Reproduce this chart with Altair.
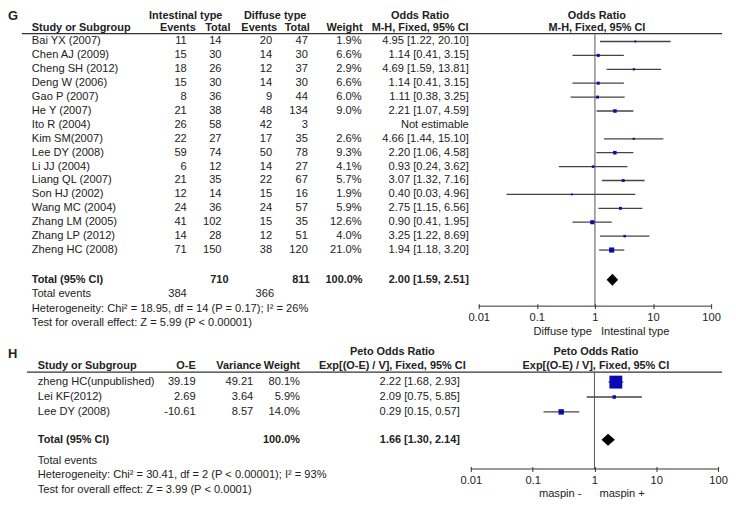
import altair as alt
import pandas as pd

# ---------------- Panel G data ----------------
g_study = ["Bai YX (2007)", "Chen AJ (2009)", "Cheng SH (2012)", "Deng W (2006)",
           "Gao P (2007)", "He Y (2007)", "Ito R (2004)", "Kim SM(2007)",
           "Lee DY (2008)", "Li JJ (2004)", "Liang QL (2007)", "Son HJ (2002)",
           "Wang MC (2004)", "Zhang LM (2005)", "Zhang LP (2012)", "Zheng HC (2008)"]
g_int_events = [11, 15, 18, 15, 8, 21, 26, 22, 59, 6, 21, 12, 24, 41, 14, 71]
g_int_total = [14, 30, 26, 30, 36, 38, 58, 27, 74, 12, 35, 14, 36, 102, 28, 150]
g_dif_events = [20, 14, 12, 14, 9, 48, 42, 17, 50, 14, 22, 15, 24, 15, 12, 38]
g_dif_total = [47, 30, 37, 30, 44, 134, 3, 35, 78, 27, 67, 16, 57, 35, 51, 120]
g_weight = [1.9, 6.6, 2.9, 6.6, 6.0, 9.0, None, 2.6, 9.3, 4.1, 5.7, 1.9, 5.9, 12.6, 4.0, 21.0]
g_or = [4.95, 1.14, 4.69, 1.14, 1.11, 2.21, None, 4.66, 2.20, 0.93, 3.07, 0.40, 2.75, 0.90, 3.25, 1.94]
g_lo = [1.22, 0.41, 1.59, 0.41, 0.38, 1.07, None, 1.44, 1.06, 0.24, 1.32, 0.03, 1.15, 0.41, 1.22, 1.18]
g_hi = [20.10, 3.15, 13.81, 3.15, 3.25, 4.59, None, 15.10, 4.58, 3.62, 7.16, 4.96, 6.56, 1.95, 8.69, 3.20]
g_total = [2.00, 1.59, 2.51]
g_total_n = [710, 811]
g_total_events = [384, 366]
g_het = "Heterogeneity: Chi\u00b2 = 18.95, df = 14 (P = 0.17); I\u00b2 = 26%"
g_test = "Test for overall effect: Z = 5.99 (P < 0.00001)"
g_favours = ["Diffuse type", "Intestinal type"]

# ---------------- Panel H data ----------------
h_study = ["zheng HC(unpublished)", "Lei KF(2012)", "Lee DY (2008)"]
h_oe = [39.19, 2.69, -10.61]
h_var = [49.21, 3.64, 8.57]
h_weight = [80.1, 5.9, 14.0]
h_or = [2.22, 2.09, 0.29]
h_lo = [1.68, 0.75, 0.15]
h_hi = [2.93, 5.85, 0.57]
h_total = [1.66, 1.30, 2.14]
h_het = "Heterogeneity: Chi\u00b2 = 30.41, df = 2 (P < 0.00001); I\u00b2 = 93%"
h_test = "Test for overall effect: Z = 3.99 (P < 0.0001)"
h_favours = ["maspin -", "maspin +"]

tick_vals = [0.01, 0.1, 1, 10, 100]

FONT = "Liberation Sans"
TXT = "#222222"
SQ = "#0a0ab4"
LINE = "#444444"
FS = 11.2    # normal text size
FSB = 11     # bold header size


def fmt_or(o, l, h):
    if o is None:
        return "Not estimable"
    return f"{o:.2f} [{l:.2f}, {h:.2f}]"


def pct(w):
    return "" if w is None else f"{w:.1f}%"


def txt(labels, ys, x, align, ysc, bold=False, size=None):
    if size is None:
        size = FSB if bold else FS
    d = pd.DataFrame({"t": [str(v) for v in labels], "y": list(ys)})
    return alt.Chart(d).mark_text(
        align=align, baseline="middle", font=FONT, fontSize=size,
        fontWeight="bold" if bold else "normal", color=TXT
    ).encode(x=alt.value(x), y=alt.Y("y:Q", scale=ysc, axis=None), text="t:N")


def hline(y, x1, x2, ysc):
    return alt.Chart(pd.DataFrame({"y": [y]})).mark_rule(color="#333333", strokeWidth=1.3).encode(
        x=alt.value(x1), x2=alt.value(x2), y=alt.Y("y:Q", scale=ysc, axis=None))


def make_axis():
    return alt.Axis(values=tick_vals, format="~g", title=None, grid=False, domain=False,
                    ticks=True, tickSize=5, tickColor="#333333", tickWidth=1,
                    labelFont=FONT, labelFontSize=11.2, labelColor=TXT, labelPadding=3,
                    labelFlush=False, labelOverlap=False, orient="bottom")


def forest(ors, los, his, ws, ys, xsc, ysc, k, y_top, y_line, tot, y_tot, favours, y_fav, dxl, dxr):
    ax = make_axis()
    d = pd.DataFrame({"or": ors, "lo": los, "hi": his, "w": ws, "y": ys}).dropna()
    d["area"] = k[0] + k[1] * d["w"]
    X = lambda f: alt.X(f, scale=xsc, axis=ax)
    Y = lambda f: alt.Y(f, scale=ysc, axis=None)
    ref = alt.Chart(pd.DataFrame({"x": [1.0], "y": [y_top], "y2": [y_line]})).mark_rule(
        color="#555555", strokeWidth=1).encode(x=X("x:Q"), y=Y("y:Q"), y2="y2:Q")
    axl = alt.Chart(pd.DataFrame({"x": [tick_vals[0]], "x2": [tick_vals[-1]], "y": [y_line]})).mark_rule(
        color="#333333", strokeWidth=1).encode(x=X("x:Q"), x2="x2:Q", y=Y("y:Q"))
    ci = alt.Chart(d).mark_rule(color=LINE, strokeWidth=1.3).encode(
        x=X("lo:Q"), x2="hi:Q", y=Y("y:Q"))
    sq = alt.Chart(d).mark_square(color=SQ, opacity=1).encode(
        x=X("or:Q"), y=Y("y:Q"), size=alt.Size("area:Q", scale=None))
    est, lo, hi = tot
    dia = alt.Chart(pd.DataFrame({"x": [lo, est, hi],
                                  "y": [y_tot, y_tot - 6, y_tot],
                                  "y2": [y_tot, y_tot + 6, y_tot]})).mark_area(
        color="black", opacity=1, orient="vertical").encode(x=X("x:Q"), y=Y("y:Q"), y2="y2:Q")
    fl = alt.Chart(pd.DataFrame({"x": [1.0], "y": [y_fav], "t": [favours[0]]})).mark_text(
        align="right", baseline="middle", font=FONT, fontSize=FS, color=TXT, dx=dxl).encode(
        x=X("x:Q"), y=Y("y:Q"), text="t:N")
    fr = alt.Chart(pd.DataFrame({"x": [1.0], "y": [y_fav], "t": [favours[1]]})).mark_text(
        align="left", baseline="middle", font=FONT, fontSize=FS, color=TXT, dx=dxr).encode(
        x=X("x:Q"), y=Y("y:Q"), text="t:N")
    return [ref, axl, ci, sq, dia, fl, fr]


# ---------------- Panel G layout ----------------
HG = 296
gys = alt.Scale(domain=[0, HG], range=[0, HG], nice=False, zero=False)
gx = alt.Scale(type="log", domain=[0.01, 100], range=[474, 708])
g_rows = [32 + 14.0 * i for i in range(len(g_study))]
gh1, gh2, gul = 6, 18.5, 24
g_tot_y, g_ev_y, g_het_y, g_test_y = 272, 286.5, 301, 315.5

g_layers = [
    txt(["G"], [6.5], 0, "left", gys, bold=True, size=13),
    txt(["Intestinal type"], [gh1], 179, "center", gys, bold=True),
    txt(["Diffuse type"], [gh1], 269, "center", gys, bold=True),
    txt(["Odds Ratio"], [gh1], 415, "center", gys, bold=True),
    txt(["Odds Ratio"], [gh1], 593, "center", gys, bold=True),
    txt(["Study or Subgroup"], [gh2], 24, "left", gys, bold=True),
    txt(["Events"], [gh2], 189, "right", gys, bold=True),
    txt(["Total"], [gh2], 224, "right", gys, bold=True),
    txt(["Events"], [gh2], 271, "right", gys, bold=True),
    txt(["Total"], [gh2], 304, "right", gys, bold=True),
    txt(["Weight"], [gh2], 357, "right", gys, bold=True),
    txt(["M-H, Fixed, 95% CI"], [gh2], 415, "center", gys, bold=True),
    txt(["M-H, Fixed, 95% CI"], [gh2], 593, "center", gys, bold=True),
    hline(gul, 14, 719, gys),
    txt(g_study, g_rows, 24, "left", gys),
    txt(g_int_events, g_rows, 180, "right", gys),
    txt(g_int_total, g_rows, 215, "right", gys),
    txt(g_dif_events, g_rows, 266, "right", gys),
    txt(g_dif_total, g_rows, 302, "right", gys),
    txt([pct(w) for w in g_weight], g_rows, 356, "right", gys),
    txt([fmt_or(o, l, h) for o, l, h in zip(g_or, g_lo, g_hi)], g_rows, 464, "right", gys),
    txt(["Total (95% CI)"], [g_tot_y], 24, "left", gys, bold=True),
    txt([g_total_n[0]], [g_tot_y], 222, "right", gys, bold=True),
    txt([g_total_n[1]], [g_tot_y], 304, "right", gys, bold=True),
    txt(["100.0%"], [g_tot_y], 357, "right", gys, bold=True),
    txt([fmt_or(*g_total)], [g_tot_y], 464, "right", gys, bold=True),
    txt(["Total events"], [g_ev_y], 24, "left", gys),
    txt([g_total_events[0]], [g_ev_y], 180, "right", gys),
    txt([g_total_events[1]], [g_ev_y], 268, "right", gys),
    txt([g_het], [g_het_y], 24, "left", gys),
    txt([g_test], [g_test_y], 24, "left", gys),
] + forest(g_or, g_lo, g_hi, g_weight, g_rows, gx, gys, (1.5, 1.2), gul, 298.5,
           g_total, g_tot_y, g_favours, 325, -3, 6)

g_chart = alt.layer(*g_layers).properties(width=720, height=HG)

# ---------------- Panel H layout ----------------
HH = 126
hys = alt.Scale(domain=[0, HH], range=[0, HH], nice=False, zero=False)
hx = alt.Scale(type="log", domain=[0.01, 100], range=[466, 715])
h_rows = [41, 56, 71]
hh1, hh2, hul = 11, 25, 31
h_tot_y, h_ev_y, h_het_y, h_test_y = 99, 120, 135, 150

h_layers = [
    txt(["H"], [13], 0, "left", hys, bold=True, size=13),
    txt(["Peto Odds Ratio"], [hh1], 387, "center", hys, bold=True),
    txt(["Peto Odds Ratio"], [hh1], 592, "center", hys, bold=True),
    txt(["Study or Subgroup"], [hh2], 30, "left", hys, bold=True),
    txt(["O-E"], [hh2], 189, "right", hys, bold=True),
    txt(["Variance"], [hh2], 255, "right", hys, bold=True),
    txt(["Weight"], [hh2], 294, "right", hys, bold=True),
    txt(["Exp[(O-E) / V], Fixed, 95% CI"], [hh2], 387, "center", hys, bold=True),
    txt(["Exp[(O-E) / V], Fixed, 95% CI"], [hh2], 592, "center", hys, bold=True),
    hline(hul, 19, 719, hys),
    txt(h_study, h_rows, 30, "left", hys),
    txt([f"{v:.2f}" for v in h_oe], h_rows, 189, "right", hys),
    txt([f"{v:.2f}" for v in h_var], h_rows, 247, "right", hys),
    txt([pct(w) for w in h_weight], h_rows, 294, "right", hys),
    txt([fmt_or(o, l, h) for o, l, h in zip(h_or, h_lo, h_hi)], h_rows, 455, "right", hys),
    txt(["Total (95% CI)"], [h_tot_y], 30, "left", hys, bold=True),
    txt(["100.0%"], [h_tot_y], 294, "right", hys, bold=True),
    txt([fmt_or(*h_total)], [h_tot_y], 455, "right", hys, bold=True),
    txt(["Total events"], [h_ev_y], 30, "left", hys),
    txt([h_het], [h_het_y], 30, "left", hys),
    txt([h_test], [h_test_y], 30, "left", hys),
] + forest(h_or, h_lo, h_hi, h_weight, h_rows, hx, hys, (0.0, 2.1), hul, 128.5,
           h_total, h_tot_y, h_favours, 154, -13, 5)

h_chart = alt.layer(*h_layers).properties(width=720, height=HH)

chart = alt.vconcat(g_chart, h_chart, spacing=38, bounds="flush", padding=0).configure_view(stroke=None)

chart.save("out.html", embed_options={"renderer": "svg", "actions": False})
